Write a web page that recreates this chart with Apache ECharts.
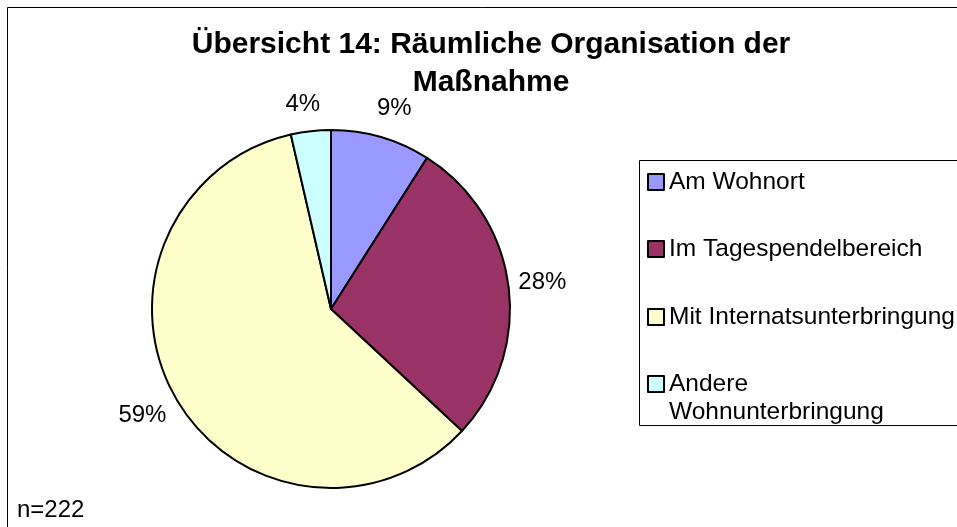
<!DOCTYPE html>
<html>
<head>
<meta charset="utf-8">
<script src="https://cdn.jsdelivr.net/npm/echarts@6/dist/echarts.min.js"></script>
<style>
html,body{margin:0;padding:0;background:#fff;}
#chart{width:957px;height:527px;}
</style>
</head>
<body>
<div id="chart"></div>
<script>
const categories = ['Am Wohnort', 'Im Tagespendelbereich', 'Mit Internatsunterbringung', 'Andere Wohnunterbringung'];
const values = [20, 62, 132, 8];
const colors = ['#9999FF', '#993366', '#FFFFCC', '#CCFFFF'];
const legendLabels = ['Am Wohnort', 'Im Tagespendelbereich', 'Mit Internatsunterbringung', '\nAndere\nWohnunterbringung'];
const titleText = 'Übersicht 14: Räumliche Organisation der\nMaßnahme';
const noteText = 'n=222';

const FONT = '"Liberation Sans", Arial, sans-serif';
const chart = echarts.init(document.getElementById('chart'));

// layout / style settings
const legendTops = [168, 235, 303, 342];
const labelLineLengths = [30, 29, 33, 27];

const legends = categories.map((c, i) => ({
  data: [c],
  left: 647,
  top: legendTops[i],
  padding: 0,
  orient: 'vertical',
  icon: 'rect',
  itemWidth: 16,
  itemHeight: 16,
  selectedMode: false,
  itemStyle: { borderColor: '#000', borderWidth: 2 },
  formatter: () => legendLabels[i],
  textStyle: { fontFamily: FONT, fontSize: 24.5, color: '#000', lineHeight: 28 }
}));

chart.setOption({
  animation: false,
  backgroundColor: '#fff',
  color: colors,
  legend: legends,
  graphic: [
    { type: 'rect', shape: { x: 7.5, y: 7.5, width: 1000, height: 1000 }, style: { fill: 'none', stroke: '#000', lineWidth: 1 }, z: 0 },
    { type: 'rect', shape: { x: 639.5, y: 160.5, width: 400, height: 265 }, style: { fill: 'none', stroke: '#000', lineWidth: 1 }, z: 0 },
    { type: 'text', x: 491, y: 25.5, style: { text: titleText, fontFamily: FONT, fontSize: 30, fontWeight: 'bold', lineHeight: 38, fill: '#000', align: 'center', verticalAlign: 'top' } },
    { type: 'text', x: 17, y: 510, style: { text: noteText, fontFamily: FONT, fontSize: 24, fill: '#000', align: 'left', verticalAlign: 'middle' } }
  ],
  series: [{
    type: 'pie',
    center: [331, 309],
    radius: 179,
    startAngle: 90,
    clockwise: true,
    avoidLabelOverlap: false,
    itemStyle: { borderColor: '#000', borderWidth: 2 },
    label: {
      show: true,
      position: 'outside',
      formatter: p => Math.round(p.percent) + '%',
      fontFamily: FONT,
      fontSize: 24,
      color: '#000'
    },
    labelLine: { show: false, length: 30, length2: 0 },
    labelLayout: { align: 'center' },
    emphasis: { disabled: true },
    data: categories.map((c, i) => ({ name: c, value: values[i], labelLine: { show: false, length: labelLineLengths[i], length2: 0 } }))
  }]
});
</script>
</body>
</html>
